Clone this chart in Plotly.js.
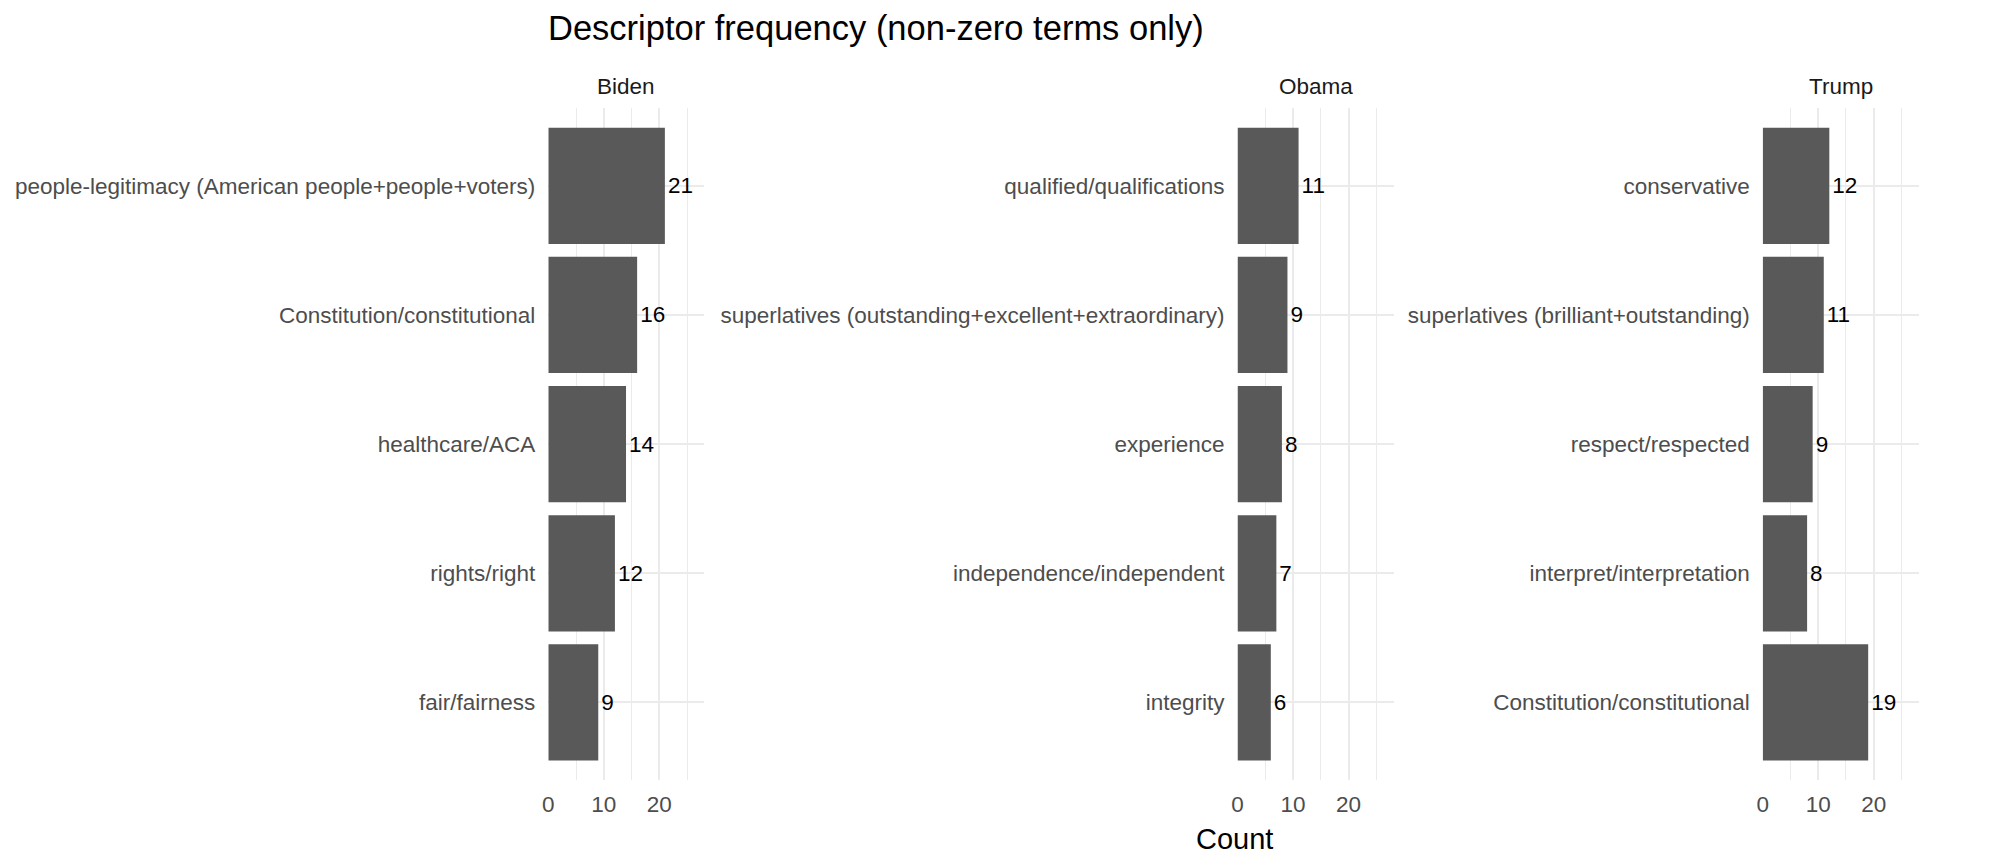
<!DOCTYPE html>
<html>
<head>
<meta charset="utf-8">
<script src="https://cdn.plot.ly/plotly-3.0.1.min.js"></script>
<style>
    body { margin: 0; background: #ffffff; }
    #descriptorChart { width: 2000px; height: 868px; }
</style>
</head>
<body>
<div id="descriptorChart"></div>
<script>
// Data (top to bottom in each panel)
var bidenTerms = [
    "people-legitimacy (American people+people+voters)",
    "Constitution/constitutional",
    "healthcare/ACA",
    "rights/right",
    "fair/fairness"
];
var bidenCounts = [21, 16, 14, 12, 9];

var obamaTerms = [
    "qualified/qualifications",
    "superlatives (outstanding+excellent+extraordinary)",
    "experience",
    "independence/independent",
    "integrity"
];
var obamaCounts = [11, 9, 8, 7, 6];

var trumpTerms = [
    "conservative",
    "superlatives (brilliant+outstanding)",
    "respect/respected",
    "interpret/interpretation",
    "Constitution/constitutional"
];
var trumpCounts = [12, 11, 9, 8, 19];

var panelNames = ["Biden", "Obama", "Trump"];
var xTickVals = [0, 10, 20];

// Constants
var fontFamily = "Liberation Sans, Arial, sans-serif";
var barColor = "#595959";
var gridColor = "#EBEBEB";
var axisTextColor = "#4D4D4D";
var xRange = [0, 28.1];
var xDomains = [[0.27415, 0.35215], [0.61875, 0.69675], [0.88135, 0.95935]];
var yDomain = [0.1014, 0.8752];

function makeBarTrace(terms, counts, n) {
    var suffix = n == 1 ? "" : String(n);
    return {
        type: "bar",
        orientation: "h",
        x: counts,
        y: terms,
        xaxis: "x" + suffix,
        yaxis: "y" + suffix,
        width: 0.9,
        marker: { color: barColor, line: { width: 0 } },
        text: counts.map(String),
        textposition: "outside",
        constraintext: "none",
        cliponaxis: false,
        textfont: { family: fontFamily, size: 22.5, color: "#000000" },
        hoverinfo: "x+y",
        showlegend: false
    };
}

function makeXAxis(n) {
    return {
        domain: xDomains[n],
        anchor: "y" + (n == 0 ? "" : String(n + 1)),
        range: xRange,
        tickvals: xTickVals,
        ticks: "",
        ticklabelstandoff: 9,
        showgrid: true,
        gridcolor: gridColor,
        gridwidth: 2,
        minor: { dtick: 5, tick0: 0, showgrid: true, gridcolor: gridColor, gridwidth: 1 },
        zeroline: false,
        showline: false,
        tickfont: { family: fontFamily, size: 22.5, color: axisTextColor }
    };
}

function makeYAxis(n, terms) {
    return {
        domain: yDomain,
        anchor: "x" + (n == 0 ? "" : String(n + 1)),
        type: "category",
        categoryorder: "array",
        categoryarray: terms,
        range: [4.6, -0.6],
        ticks: "",
        ticklabelstandoff: 12,
        showgrid: true,
        gridcolor: gridColor,
        gridwidth: 2,
        zeroline: false,
        showline: false,
        tickfont: { family: fontFamily, size: 22.5, color: axisTextColor }
    };
}

function plotDescriptorChart() {
    var traces = [
        makeBarTrace(bidenTerms, bidenCounts, 1),
        makeBarTrace(obamaTerms, obamaCounts, 2),
        makeBarTrace(trumpTerms, trumpCounts, 3)
    ];

    // Facet strip labels
    var annotations = [];
    for (var i = 0; i < panelNames.length; i++) {
        annotations.push({
            text: panelNames[i],
            xref: "paper", yref: "paper",
            x: (xDomains[i][0] + xDomains[i][1]) / 2,
            y: 0.9001,
            xanchor: "center", yanchor: "middle",
            showarrow: false,
            font: { family: fontFamily, size: 22.5, color: "#1A1A1A" }
        });
    }
    // Shared x axis title
    annotations.push({
        text: "Count",
        xref: "paper", yref: "paper",
        x: 0.617, y: 0.0330,
        xanchor: "center", yanchor: "middle",
        showarrow: false,
        font: { family: fontFamily, size: 29, color: "#000000" }
    });

    var layout = {
        width: 2000,
        height: 868,
        margin: { l: 0, r: 0, t: 0, b: 0 },
        paper_bgcolor: "#ffffff",
        plot_bgcolor: "#ffffff",
        title: {
            text: "Descriptor frequency (non-zero terms only)",
            xref: "paper", yref: "container",
            x: 0.274, xanchor: "left",
            y: 0.9677, yanchor: "middle",
            font: { family: fontFamily, size: 34.5, color: "#000000" }
        },
        bargap: 0.1,
        showlegend: false,
        annotations: annotations,
        xaxis: makeXAxis(0),
        xaxis2: makeXAxis(1),
        xaxis3: makeXAxis(2),
        yaxis: makeYAxis(0, bidenTerms),
        yaxis2: makeYAxis(1, obamaTerms),
        yaxis3: makeYAxis(2, trumpTerms)
    };

    Plotly.newPlot("descriptorChart", traces, layout, { displayModeBar: false, staticPlot: true });
}
plotDescriptorChart();
</script>
</body>
</html>
